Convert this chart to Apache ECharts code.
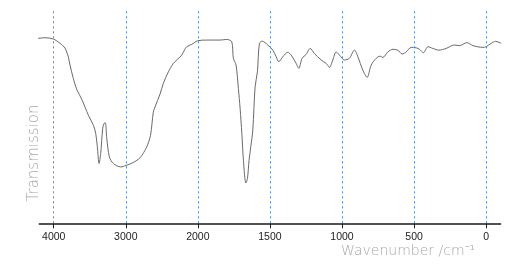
<!DOCTYPE html>
<html>
<head>
<meta charset="utf-8">
<script src="https://cdn.jsdelivr.net/npm/echarts@6/dist/echarts.min.js"></script>
<style>html,body{margin:0;padding:0;background:#fff}#c{width:526px;height:271px}</style>
</head>
<body>
<div id="c"></div>
<script>
// Tick labels of the wavenumber axis (scale changes at 2000 cm-1)
var tickLabels = [4000, 3000, 2000, 1500, 1000, 500, 0];
// Spectrum: wavenumber (cm-1) and transmission (arbitrary %)
var wavenumbers = [4283,4214,4121,4006,3913,3843,3815,3797,3774,3728,3681,3611,3520,3450,3417,3395,3371,3348,3320,3302,3284,3264,3228,3173,3070,2997,2895,2802,2709,2657,2618,2594,2525,2479,2409,2340,2223,2187,2154,2085,2000,1938,1846,1800,1765,1754,1735,1719,1707,1695,1684,1667,1656,1645,1633,1619,1603,1587,1573,1554,1515,1480,1457,1439,1411,1376,1353,1318,1300,1277,1249,1221,1192,1145,1110,1087,1064,1041,1018,983,949,914,890,856,826,798,763,736,717,682,647,613,583,555,520,486,463,435,404,370,328,278,220,185,134,92,23,0,-35,-65,-104];
var transmission = [86.0,86.3,86.6,86.0,84.0,81.8,79.4,77.7,73.8,67.6,62.5,57.9,50.5,45.8,41.9,35.7,27.9,32.7,44.4,46.6,46.9,39.7,31.0,27.9,26.3,27.0,28.4,30.6,35.7,41.1,51.9,54.3,60.3,65.3,70.7,74.6,78.5,80.8,82.4,83.5,85.2,85.5,85.5,85.8,84.7,77.0,73.8,62.9,53.6,41.9,29.4,18.8,20.9,29.4,35.7,43.5,63.7,70.7,84.0,85.0,83.2,80.8,77.7,75.4,77.7,79.8,78.5,74.6,72.3,77.0,78.8,81.6,79.3,76.2,74.6,72.8,76.2,80.0,78.5,76.2,77.0,80.8,77.7,71.5,68.1,73.8,77.0,78.0,77.4,80.0,81.2,80.8,79.0,80.0,82.1,81.9,81.2,79.6,82.4,81.6,80.8,81.6,83.2,82.9,84.3,82.9,82.1,82.4,84.0,84.9,84.0];

// Piecewise-linear axis position: tick label k sits at position k + 1
function axisPos(w) {
  var n = tickLabels.length;
  var i = 0;
  if (w >= tickLabels[0]) i = 0;
  else if (w <= tickLabels[n - 1]) i = n - 2;
  else { while (i < n - 2 && w < tickLabels[i + 1]) i++; }
  var a = tickLabels[i], b = tickLabels[i + 1];
  return 1 + i + (a - w) / (a - b);
}
var tickPositions = tickLabels.map(function (w) { return axisPos(w); });
var seriesData = wavenumbers.map(function (w, i) { return [axisPos(w), transmission[i]]; });

var chart = echarts.init(document.getElementById('c'), null, { renderer: 'canvas' });
chart.setOption({
  animation: false,
  backgroundColor: '#ffffff',
  grid: { left: 39.3, right: 25.4, top: 9, bottom: 47.7, containLabel: false, show: false },
  xAxis: {
    type: 'value',
    min: axisPos(4200),
    max: axisPos(-100),
    axisLine: { show: true, onZero: false, lineStyle: { color: '#1a1a1a', width: 1.5 } },
    axisTick: { show: true, length: 5, customValues: tickPositions, lineStyle: { color: '#1a1a1a', width: 1 } },
    axisLabel: {
      customValues: tickPositions,
      margin: 8,
      color: '#222',
      fontSize: 10.5,
      fontFamily: 'Liberation Sans, Arial, sans-serif',
      formatter: function (v) { return String(tickLabels[Math.round(v) - 1]); }
    },
    splitLine: { show: false }
  },
  yAxis: {
    type: 'value', min: 0, max: 100, show: false
  },
  graphic: [
    {
      type: 'text', left: 341, top: 244,
      style: { text: 'Wavenumber /cm\u207B\u00B9', fill: '#a8a8a8', font: '200 14px "DejaVu Sans", sans-serif' }
    },
    {
      type: 'text', x: 34, y: 153, rotation: Math.PI / 2,
      style: { text: 'Transmission', fill: '#a8a8a8', font: '200 15px "DejaVu Sans", sans-serif', align: 'center', verticalAlign: 'middle' }
    }
  ],
  series: [{
    type: 'line',
    data: seriesData,
    showSymbol: false,
    smooth: 0.3,
    clip: false,
    lineStyle: { color: '#6a6a6a', width: 1 },
    markLine: {
      silent: true,
      symbol: ['none', 'none'],
      label: { show: false },
      lineStyle: { color: '#4f8bd0', type: [2, 3], width: 1 },
      emphasis: { disabled: true },
      data: tickPositions.map(function (p) { return { xAxis: p }; })
    },
    z: 3
  }]
});
</script>
</body>
</html>
